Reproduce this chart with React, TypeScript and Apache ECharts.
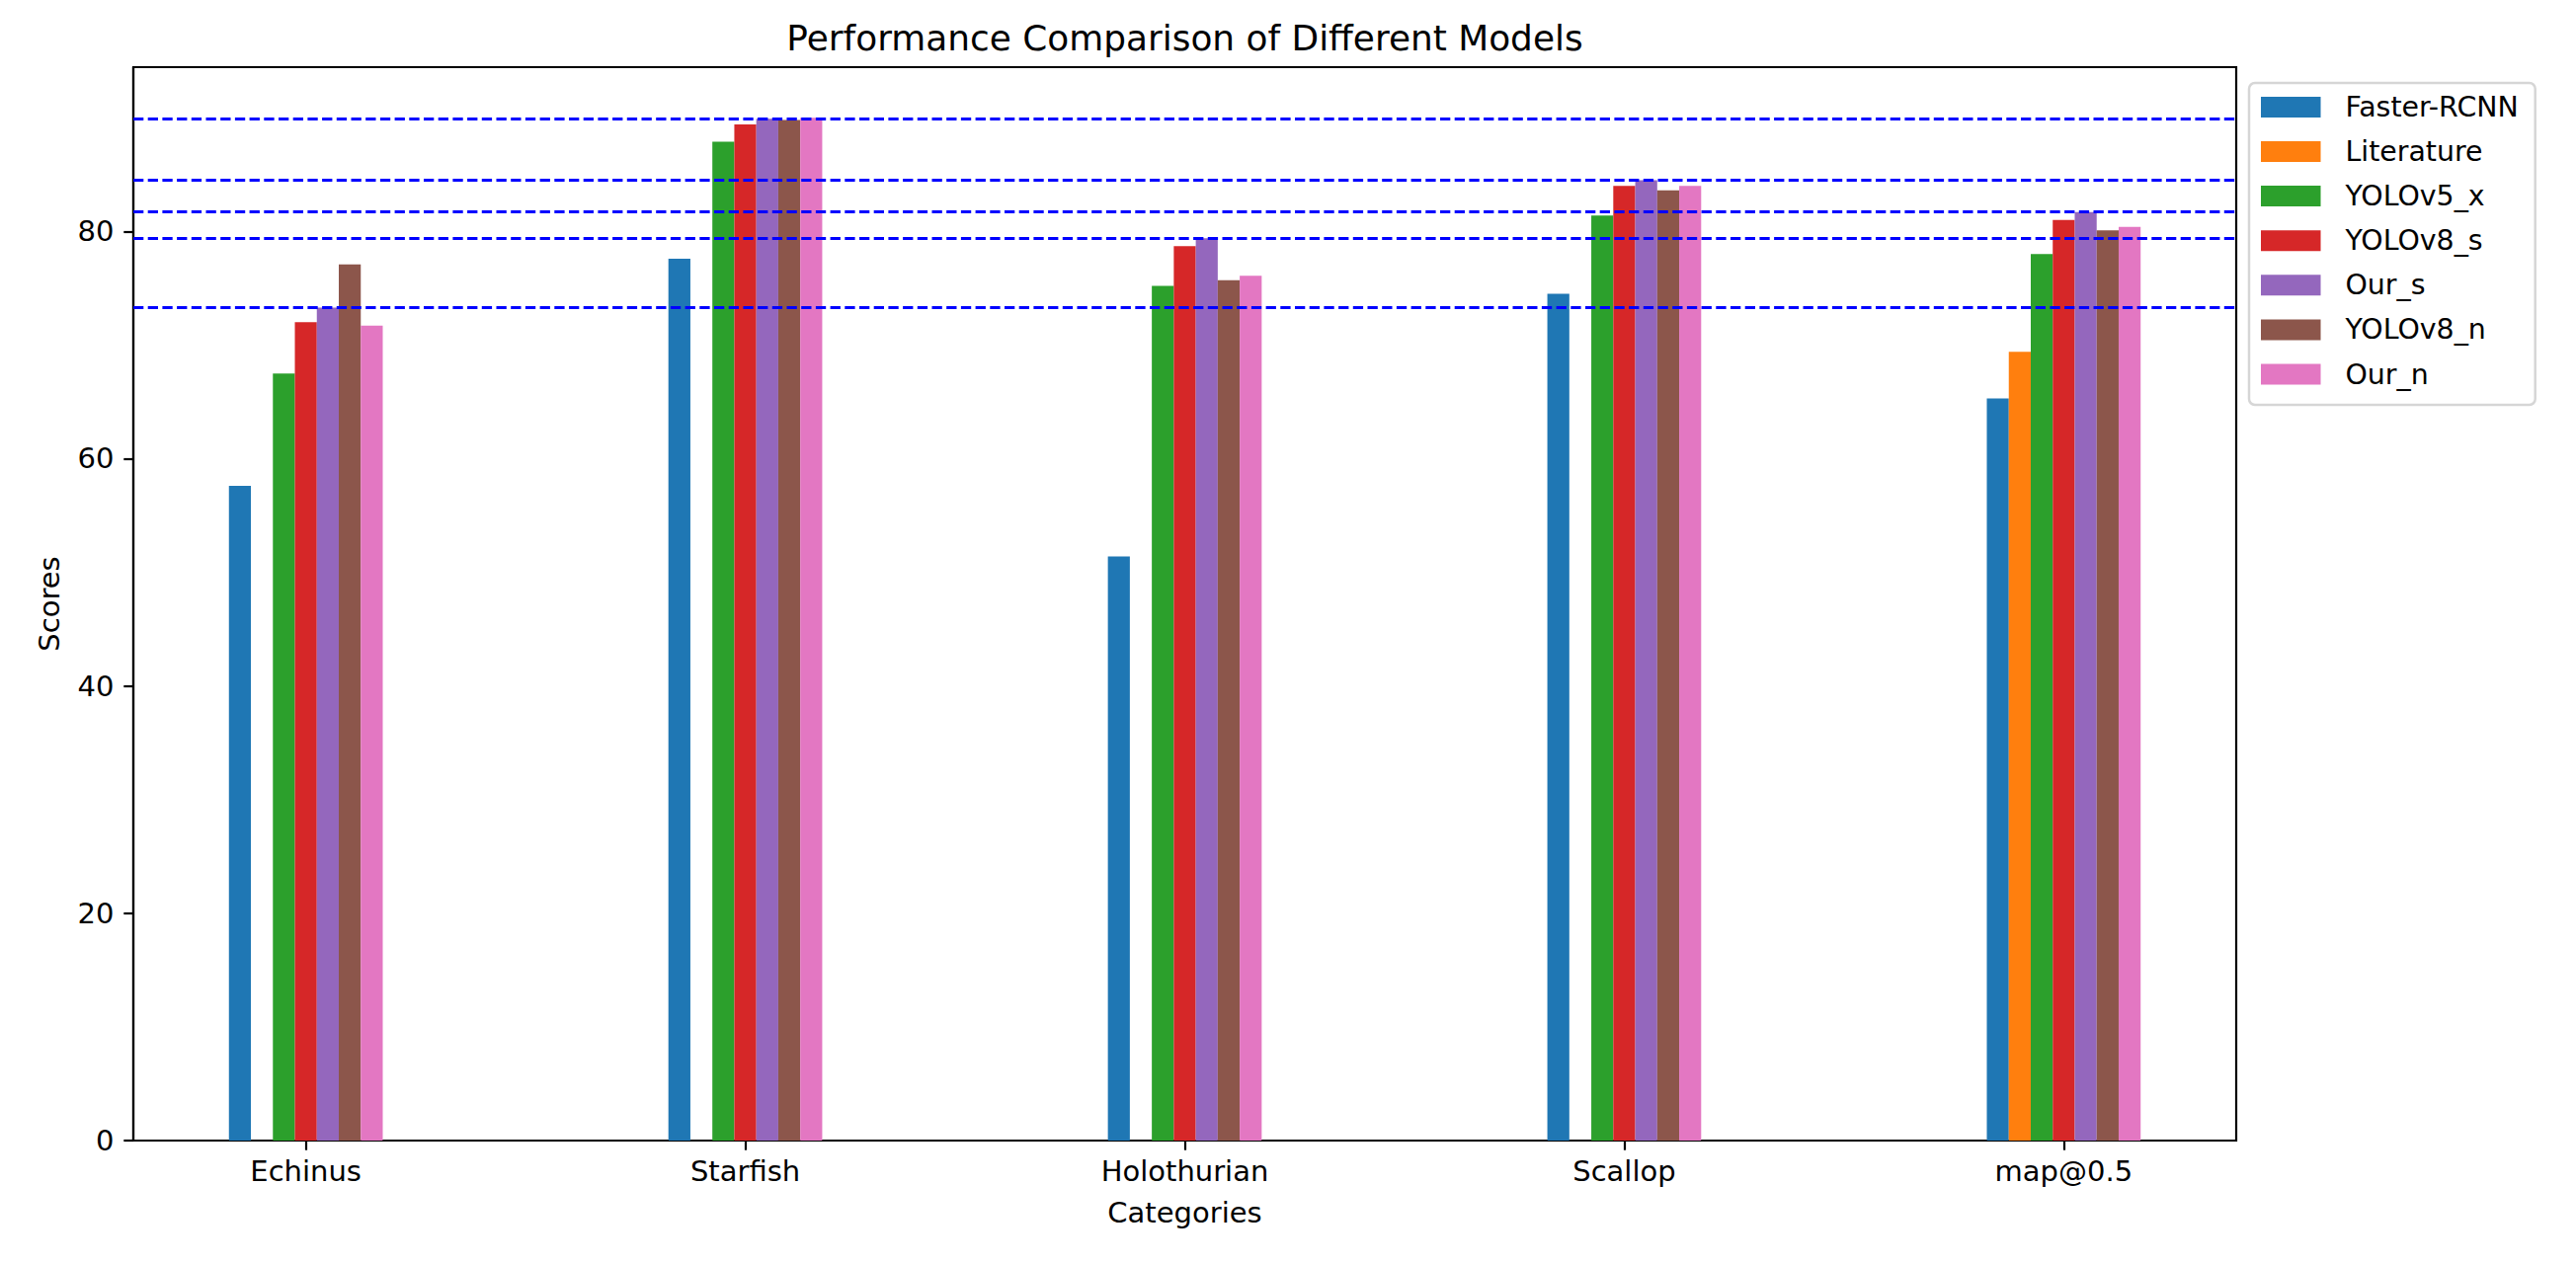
import React, { useEffect, useRef } from "react";
import * as echarts from "echarts";

const categories = ["Echinus", "Starfish", "Holothurian", "Scallop", "map@0.5"];
const models = ["Faster-RCNN", "Literature", "YOLOv5_x", "YOLOv8_s", "Our_s", "YOLOv8_n", "Our_n"];
const fasterRcnn = [57.6, 77.6, 51.4, 74.5, 65.3];
const literature = [null, null, null, null, 69.4];
const yolov5x = [67.5, 87.9, 75.2, 81.4, 78.0];
const yolov8s = [72.0, 89.4, 78.7, 84.0, 81.0];
const ourS = [73.3, 89.9, 79.4, 84.5, 81.7];
const yolov8n = [77.1, 89.8, 75.7, 83.6, 80.1];
const ourN = [71.7, 90.0, 76.1, 84.0, 80.4];
const yTicks = [0, 20, 40, 60, 80];
const xTicks = [0, 1, 2, 3, 4];

const colors = ["#1f77b4", "#ff7f0e", "#2ca02c", "#d62728", "#9467bd", "#8c564b", "#e377c2"];
const FONT = "DejaVu Sans";

export default function App() {
  const ref = useRef<HTMLDivElement>(null);
  useEffect(() => {
    if (!ref.current) return;
    const chart = echarts.init(ref.current, null, { renderer: "svg" });
    const all = [fasterRcnn, literature, yolov5x, yolov8s, ourS, yolov8n, ourN];
    const barW = 0.05;
    const gridLeft = 135;
    const gridTop = 68;
    const gridW = 2129;
    const gridH = 1087;
    const xMin = -0.3925;
    const xMax = 4.3925;
    const pxPerUnit = gridW / (xMax - xMin);
    const barSeries = all.map((vals, k) => ({
      name: models[k],
      type: "bar",
      barWidth: barW * pxPerUnit,
      barGap: "-100%",
      itemStyle: { color: colors[k] },
      data: vals
        .map((v, i) => (v == null ? null : [i + (k - 3) * barW, v]))
        .filter((d) => d != null),
      z: 2,
    }));
    const option: any = {
      animation: false,
      textStyle: { fontFamily: FONT },
      graphic: [
        {
          type: "text",
          x: gridLeft + gridW / 2,
          y: 38,
          style: {
            text: "Performance Comparison of Different Models",
            fontSize: 35.9,
            fontFamily: FONT,
            fill: "#000",
            textAlign: "center",
            textVerticalAlign: "middle",
          },
        },
      ],
      legend: {
        data: models,
        orient: "vertical",
        left: 2277,
        top: 84,
        padding: [10.4, 17, 17, 12],
        itemWidth: 60.5,
        itemHeight: 21,
        itemGap: 17.1,
        icon: "rect",
        backgroundColor: "#fff",
        borderColor: "#d6d6d6",
        borderWidth: 2.5,
        borderRadius: 6,
        textStyle: { fontSize: 28.4, color: "#000", fontFamily: FONT, padding: [0, 0, 0, 20] },
      },
      grid: {
        left: gridLeft,
        top: gridTop,
        width: gridW,
        height: gridH,
        show: true,
        borderColor: "#000",
        borderWidth: 2.2,
        backgroundColor: "transparent",
      },
      xAxis: {
        type: "value",
        min: xMin,
        max: xMax,
        name: "Categories",
        nameLocation: "middle",
        nameGap: 58,
        nameTextStyle: { fontSize: 29, color: "#000", fontFamily: FONT },
        splitLine: { show: false },
        axisLine: { show: true, onZero: false, lineStyle: { color: "#000", width: 2.2 } },
        axisTick: {
          show: true,
          customValues: xTicks,
          length: 9.7,
          lineStyle: { color: "#000", width: 2.2 },
        },
        axisLabel: {
          customValues: xTicks,
          margin: 16.5,
          fontSize: 29,
          color: "#000",
          fontFamily: FONT,
          formatter: (v: number) => categories[Math.round(v)] ?? "",
        },
      },
      yAxis: {
        type: "value",
        min: 0,
        max: 94.45,
        name: "Scores",
        nameLocation: "middle",
        nameGap: 71,
        nameTextStyle: { fontSize: 29, color: "#000", fontFamily: FONT },
        splitLine: { show: false },
        axisLine: { show: true, onZero: false, lineStyle: { color: "#000", width: 2.2 } },
        axisTick: {
          show: true,
          customValues: yTicks,
          length: 9.7,
          lineStyle: { color: "#000", width: 2.2 },
        },
        axisLabel: {
          customValues: yTicks,
          margin: 19.5,
          fontSize: 29,
          color: "#000",
          fontFamily: FONT,
        },
      },
      series: [
        ...barSeries,
        {
          name: "refLines",
          type: "line",
          data: [],
          z: 10,
          markLine: {
            silent: true,
            symbol: "none",
            label: { show: false },
            lineStyle: { color: "#0000ff", type: [10.3, 4.4], width: 2.8 },
            data: ourS.map((v) => ({ yAxis: v })),
          },
        },
      ],
    };
    chart.setOption(option);
    return () => chart.dispose();
  }, []);
  return (
    <div
      ref={ref}
      style={{ position: "absolute", left: 0, top: 0, width: 2608, height: 1280, background: "#fff" }}
    />
  );
}
